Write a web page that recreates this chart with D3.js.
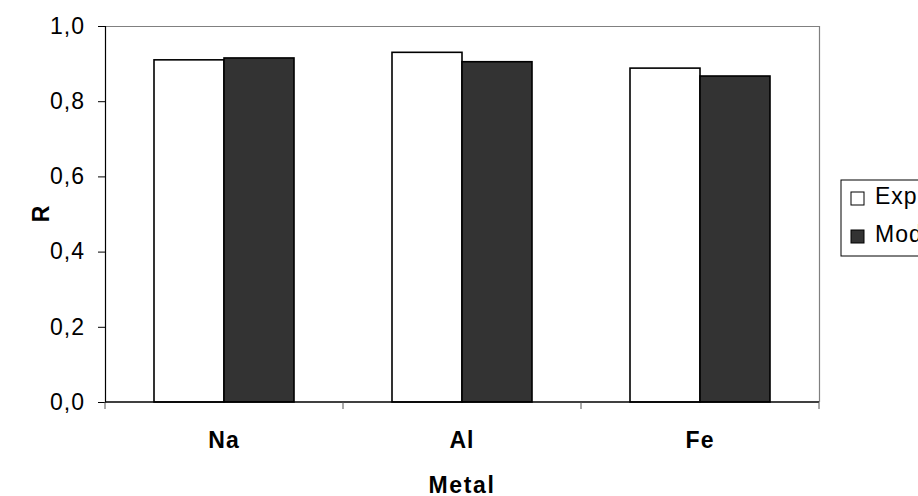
<!DOCTYPE html>
<html>
<head>
<meta charset="utf-8">
<script src="https://cdn.jsdelivr.net/npm/d3@7/dist/d3.min.js"></script>
<style>
  body { margin: 0; background: #fff; }
  svg { display: block; font-family: "Liberation Sans", Arial, sans-serif; }
</style>
</head>
<body>
<div id="chart"></div>
<script>
// data
var metals = ['Na', 'Al', 'Fe'];
var seriesNames = ['Experimental', 'Model'];
var expValues = [0.91, 0.93, 0.888];
var modValues = [0.915, 0.905, 0.867];
var yTicks = [0, 0.2, 0.4, 0.6, 0.8, 1.0];

var width = 918, height = 496;
var margin = {top: 26, right: 99, bottom: 94, left: 105};
var innerW = width - margin.left - margin.right;
var innerH = height - margin.top - margin.bottom;
var colors = ['#ffffff', '#333333'];
var fontSize = 23;

var rows = metals.map(function (m, i) {
  return {name: m, values: [expValues[i], modValues[i]]};
});

var svg = d3.select('#chart').append('svg')
  .attr('width', width)
  .attr('height', height);

var g = svg.append('g')
  .attr('transform', 'translate(' + margin.left + ',' + margin.top + ')');

var x = d3.scaleBand()
  .domain(metals)
  .range([0, innerW])
  .paddingInner(0)
  .paddingOuter(0);

var xs = d3.scaleBand()
  .domain([0, 1])
  .range([49, x.bandwidth() - 49]);

var y = d3.scaleLinear()
  .domain([0, 1])
  .range([innerH, 0]);

// plot frame (top / right grey)
g.append('path')
  .attr('d', 'M0,0.5H' + (innerW + 0.5) + 'V' + innerH)
  .attr('fill', 'none')
  .attr('stroke', '#808080')
  .attr('stroke-width', 1.2);

// bars
var groups = g.selectAll('.grp')
  .data(rows)
  .enter().append('g')
  .attr('class', 'grp')
  .attr('transform', function (d) { return 'translate(' + x(d.name) + ',0)'; });

groups.selectAll('rect')
  .data(function (d) { return d.values; })
  .enter().append('rect')
  .attr('x', function (d, i) { return xs(i); })
  .attr('y', function (d) { return y(d); })
  .attr('width', xs.bandwidth())
  .attr('height', function (d) { return innerH - y(d); })
  .attr('fill', function (d, i) { return colors[i]; })
  .attr('stroke', '#000')
  .attr('stroke-width', 1.6);

// y axis
var yAxis = g.append('g')
  .call(d3.axisLeft(y)
    .tickValues(yTicks)
    .tickSize(7)
    .tickPadding(13)
    .tickFormat(function (d) { return d3.format('.1f')(d).replace('.', ','); }));
yAxis.select('.domain').attr('stroke', '#000').attr('stroke-width', 1.2);
yAxis.selectAll('.tick line').attr('stroke', '#000');
yAxis.selectAll('.tick text')
  .attr('font-size', fontSize)
  .attr('letter-spacing', 1)
  .attr('fill', '#000')
  .attr('font-family', '"Liberation Sans", Arial, sans-serif');

// x axis
var xAxisG = g.append('g')
  .attr('transform', 'translate(0,' + innerH + ')');
xAxisG.append('line')
  .attr('x1', 0).attr('x2', innerW)
  .attr('stroke', '#000').attr('stroke-width', 1.5);
xAxisG.selectAll('.tk')
  .data([0].concat(metals.map(function (m) { return x(m) + x.bandwidth(); })))
  .enter().append('line')
  .attr('x1', function (d) { return d; })
  .attr('x2', function (d) { return d; })
  .attr('y1', 0).attr('y2', 7)
  .attr('stroke', '#555');
xAxisG.selectAll('.lbl')
  .data(metals)
  .enter().append('text')
  .attr('x', function (d) { return x(d) + x.bandwidth() / 2; })
  .attr('y', 46)
  .attr('text-anchor', 'middle')
  .attr('font-size', fontSize)
  .attr('letter-spacing', 1)
  .attr('font-weight', 'bold')
  .text(function (d) { return d; });

// axis titles
svg.append('text')
  .attr('x', margin.left + innerW / 2)
  .attr('y', 493)
  .attr('text-anchor', 'middle')
  .attr('font-size', fontSize)
  .attr('letter-spacing', 1.6)
  .attr('font-weight', 'bold')
  .text('Metal');

svg.append('text')
  .attr('transform', 'translate(49,' + (margin.top + innerH / 2) + ') rotate(-90)')
  .attr('text-anchor', 'middle')
  .attr('font-size', fontSize)
  .attr('font-weight', 'bold')
  .text('R');

// legend
var legend = svg.append('g').attr('transform', 'translate(841,180)');
legend.append('rect')
  .attr('x', 0).attr('y', 0)
  .attr('width', 140).attr('height', 76)
  .attr('fill', '#fff')
  .attr('stroke', '#000')
  .attr('stroke-width', 1);
var li = legend.selectAll('.li')
  .data(seriesNames)
  .enter().append('g')
  .attr('transform', function (d, i) { return 'translate(0,' + (24 + i * 38) + ')'; });
li.append('rect')
  .attr('x', 10).attr('y', -12)
  .attr('width', 13).attr('height', 13)
  .attr('fill', function (d, i) { return colors[i]; })
  .attr('stroke', '#000');
li.append('text')
  .attr('x', 34)
  .attr('y', 0)
  .attr('font-size', fontSize)
  .attr('letter-spacing', 1)
  .text(function (d) { return d; });
</script>
</body>
</html>
